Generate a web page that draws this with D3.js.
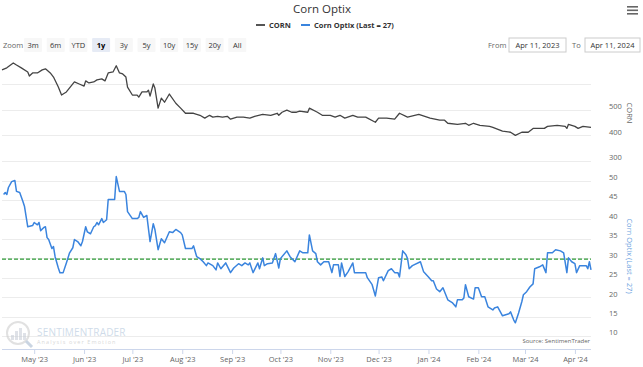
<!DOCTYPE html>
<html><head><meta charset="utf-8">
<script src="https://cdn.jsdelivr.net/npm/d3@7"></script>
<style>
html,body{margin:0;padding:0;background:#fff;}
svg{display:block;font-family:"Open Sans",Arial,sans-serif;}
</style></head>
<body><svg id="chart" width="643" height="367"></svg>
<script>
// ---------- DATA ----------
const chartTitle = "Corn Optix";
const seriesNames = ["CORN", "Corn Optix (Last = 27)"];
const cornDates = ["2023-04-11","2023-04-14","2023-04-18","2023-04-20","2023-04-23","2023-04-27","2023-04-28","2023-04-30","2023-05-03","2023-05-06",
"2023-05-08","2023-05-11","2023-05-13","2023-05-16","2023-05-18","2023-05-21","2023-05-26","2023-05-29","2023-06-01","2023-06-02",
"2023-06-04","2023-06-07","2023-06-09","2023-06-12","2023-06-14","2023-06-16","2023-06-19","2023-06-21","2023-06-23","2023-06-25",
"2023-06-27","2023-06-28","2023-07-01","2023-07-04","2023-07-05","2023-07-07","2023-07-10","2023-07-11","2023-07-12","2023-07-14",
"2023-07-15","2023-07-17","2023-07-19","2023-07-21","2023-07-24","2023-07-28","2023-07-31","2023-08-03","2023-08-08","2023-08-12",
"2023-08-15","2023-08-18","2023-08-20","2023-08-23","2023-08-26","2023-08-29","2023-08-31","2023-09-04","2023-09-08","2023-09-12",
"2023-09-15","2023-09-20","2023-09-25","2023-09-29","2023-09-30","2023-10-02","2023-10-05","2023-10-08","2023-10-11","2023-10-13",
"2023-10-18","2023-10-19","2023-10-24","2023-10-27","2023-11-01","2023-11-04","2023-11-07","2023-11-10","2023-11-15","2023-11-18",
"2023-11-23","2023-11-29","2023-12-01","2023-12-06","2023-12-11","2023-12-14","2023-12-19","2023-12-26","2024-01-02","2024-01-08",
"2024-01-11","2024-01-13","2024-01-19","2024-01-24","2024-01-26","2024-01-29","2024-02-02","2024-02-08","2024-02-10","2024-02-16",
"2024-02-21","2024-02-24","2024-02-28","2024-03-03","2024-03-06","2024-03-13","2024-03-15","2024-03-21","2024-03-26","2024-03-27",
"2024-03-28","2024-04-01","2024-04-03","2024-04-06","2024-04-11"];
const cornValues = [655,663,682,674,663,647,631,643,643,655,
659,643,627,588,557,569,608,600,592,612,
604,608,616,620,612,643,647,671,643,639,
627,588,557,557,549,569,569,576,553,600,
584,506,545,529,561,525,506,486,486,478,
467,478,471,474,471,474,463,471,471,467,
474,482,478,486,478,490,498,490,490,494,
490,506,490,478,478,471,478,467,478,471,
471,451,467,467,463,486,471,482,467,459,
459,447,443,447,439,447,439,435,431,416,
412,400,412,412,427,427,435,439,435,427,
443,435,427,435,431];
const optixDates = ["2023-04-12","2023-04-13","2023-04-14","2023-04-15","2023-04-17","2023-04-19","2023-04-20","2023-04-22","2023-04-24","2023-04-25",
"2023-04-27","2023-04-30","2023-05-01","2023-05-03","2023-05-04","2023-05-05","2023-05-07","2023-05-08","2023-05-09","2023-05-10",
"2023-05-12","2023-05-13","2023-05-14","2023-05-16","2023-05-17","2023-05-19","2023-05-21","2023-05-23","2023-05-25","2023-05-26",
"2023-05-28","2023-05-30","2023-05-31","2023-06-02","2023-06-03","2023-06-05","2023-06-07","2023-06-08","2023-06-09","2023-06-10",
"2023-06-12","2023-06-13","2023-06-15","2023-06-16","2023-06-20","2023-06-21","2023-06-23","2023-06-26","2023-06-27","2023-06-28",
"2023-07-01","2023-07-04","2023-07-05","2023-07-06","2023-07-08","2023-07-10","2023-07-11","2023-07-12","2023-07-14","2023-07-15",
"2023-07-17","2023-07-19","2023-07-21","2023-07-24","2023-07-26","2023-07-28","2023-07-31","2023-08-01","2023-08-03","2023-08-07",
"2023-08-08","2023-08-10","2023-08-12","2023-08-14","2023-08-16","2023-08-17","2023-08-20","2023-08-22","2023-08-23","2023-08-25",
"2023-08-28","2023-08-31","2023-09-02","2023-09-05","2023-09-07","2023-09-09","2023-09-11","2023-09-12","2023-09-14","2023-09-17",
"2023-09-18","2023-09-20","2023-09-21","2023-09-23","2023-09-26","2023-09-28","2023-09-30","2023-10-01","2023-10-05","2023-10-07",
"2023-10-10","2023-10-13","2023-10-15","2023-10-18","2023-10-19","2023-10-21","2023-10-23","2023-10-24","2023-10-26","2023-10-28",
"2023-10-31","2023-11-02","2023-11-03","2023-11-06","2023-11-07","2023-11-08","2023-11-10","2023-11-12","2023-11-15","2023-11-16",
"2023-11-18","2023-11-23","2023-11-24","2023-11-27","2023-11-29","2023-12-01","2023-12-03","2023-12-04","2023-12-07","2023-12-09",
"2023-12-11","2023-12-13","2023-12-14","2023-12-16","2023-12-18","2023-12-19","2023-12-20","2023-12-22","2023-12-27","2023-12-29",
"2024-01-01","2024-01-03","2024-01-04","2024-01-06","2024-01-08","2024-01-10","2024-01-13","2024-01-16","2024-01-18","2024-01-19",
"2024-01-22","2024-01-23","2024-01-24","2024-01-26","2024-01-29","2024-01-30","2024-02-01","2024-02-03","2024-02-05","2024-02-07",
"2024-02-10","2024-02-11","2024-02-13","2024-02-16","2024-02-20","2024-02-21","2024-02-23","2024-02-24","2024-02-26","2024-02-28",
"2024-02-29","2024-03-02","2024-03-04","2024-03-06","2024-03-07","2024-03-10","2024-03-12","2024-03-14","2024-03-15","2024-03-18",
"2024-03-20","2024-03-23","2024-03-25","2024-03-27","2024-03-28","2024-03-30","2024-04-01","2024-04-02","2024-04-04","2024-04-08",
"2024-04-09","2024-04-10","2024-04-11"];
const optixValues = [46.4,46.9,46.4,48.2,49.7,50,47.2,46.9,44.6,43.3,
38.1,38.4,39.2,38.6,39.2,37.1,37.9,38.1,35.3,34.8,
32.5,33,30.4,27.5,26.3,26.3,28.8,31.4,32.7,34.8,
34.3,33.2,34.3,38.1,36.8,36.3,38.1,38.4,39.2,38.6,
40.2,39.2,39.9,45.1,45.1,51.0,47.2,47.2,46.4,42,
40.2,40.2,40.5,42,40.5,41,37.6,34.3,38.9,37.4,
32.2,35,34,36.8,36.6,37.4,36.6,36,32.5,32.5,
33.2,30.4,29.9,29.1,28.1,28.8,28.1,27,28.8,27.3,
28.8,26.3,27.5,28.6,28.1,28.8,28.3,28.8,26.3,28.8,
27.3,30.1,28.1,28.6,28.8,31.2,27.5,29.9,31.9,30.4,
29.1,31.9,31.4,31.4,36,31.9,31.2,29.1,28.3,29.1,
29.1,26.3,28.3,28.3,25.3,28.8,25.3,26.5,28.8,26.3,
26.3,26.3,25,23.2,20.3,25,25.2,24.2,26.8,27.3,
26.3,26.3,25.2,31.9,30.9,29.9,27.3,28.1,29.1,26.5,
25.2,24.2,24.2,22.1,21.4,22.4,19.3,18.5,17.5,19.3,
19.3,19.8,23.2,20.1,19.5,22.4,22.4,20.1,20.1,17.5,
16.7,17.2,17.5,15.2,15.7,16.2,14.1,13.4,15.9,18.8,
20.6,21.4,22.6,23.4,27.3,27.8,28.3,26.3,31.4,31.4,
32.2,31.9,31.4,26.3,30.1,29.1,28.6,26.3,28.1,28.1,
27.3,29.1,27];
const optixThreshold = 29.8;
const dateRange = ["2023-04-11", "2024-04-11"];
const cornTicks = [300, 400, 500];
const cornGrid = [400, 500, 600];
const optixTicks = [10, 15, 20, 25, 30, 35, 40, 45, 50];
const optixGrid = [10, 15, 20, 25, 30, 35, 40, 45, 50, 55];
const zoomButtons = ["3m", "6m", "YTD", "1y", "3y", "5y", "10y", "15y", "20y", "All"];
const selectedButton = "1y";
const fromLabel = "Apr 11, 2023", toLabel = "Apr 11, 2024";

// ---------- CHART ----------
const parse = d3.timeParse("%Y-%m-%d");
const svg = d3.select("#chart");
svg.append("rect").attr("width", 643).attr("height", 367).attr("fill", "#fff");

const x = d3.scaleTime().domain(dateRange.map(parse)).range([2, 591]);
const yCorn = d3.scaleLinear().domain([300, 600]).range([161, 84]);
const yOpt = d3.scaleLinear().domain([10, 50]).range([336, 180.5]);

const BLUE = "#3a84de";

// Title
svg.append("text").attr("x", 322).attr("y", 13).attr("text-anchor", "middle")
  .attr("font-size", 11.5).attr("fill", "#333").text(chartTitle);
// Hamburger
[0, 1, 2].forEach(i => svg.append("rect").attr("x", 627).attr("y", 6 + i * 3.5)
  .attr("width", 11).attr("height", 1.6).attr("fill", "#666"));

// Legend
const lg = svg.append("g").attr("font-size", 7.5).attr("font-weight", "bold").attr("fill", "#333");
lg.append("line").attr("x1", 256).attr("x2", 265).attr("y1", 25).attr("y2", 25).attr("stroke", "#555").attr("stroke-width", 2);
lg.append("text").attr("x", 269).attr("y", 28).text(seriesNames[0]);
lg.append("line").attr("x1", 301).attr("x2", 310).attr("y1", 25).attr("y2", 25).attr("stroke", BLUE).attr("stroke-width", 2);
lg.append("text").attr("x", 314).attr("y", 28).text(seriesNames[1]);

// Range selector
const rs = svg.append("g").attr("font-size", 7.5);
rs.append("text").attr("x", 3).attr("y", 48).attr("fill", "#666").text("Zoom");
zoomButtons.forEach((b, i) => {
  const cx = 33 + i * 22.7;
  const sel = b === selectedButton;
  rs.append("rect").attr("x", cx - 9).attr("y", 38).attr("width", 18).attr("height", 14).attr("rx", 1)
    .attr("fill", sel ? "#e6ebf5" : "#f7f7f7");
  rs.append("text").attr("x", cx).attr("y", 48).attr("text-anchor", "middle")
    .attr("fill", sel ? "#000" : "#333").attr("font-weight", sel ? "bold" : "normal").text(b);
});
rs.append("text").attr("x", 488).attr("y", 48).attr("fill", "#666").text("From");
rs.append("rect").attr("x", 509).attr("y", 38).attr("width", 57).attr("height", 14).attr("fill", "#fff").attr("stroke", "#ccc");
rs.append("text").attr("x", 537.5).attr("y", 48).attr("text-anchor", "middle").attr("fill", "#333").text(fromLabel);
rs.append("text").attr("x", 572).attr("y", 48).attr("fill", "#666").text("To");
rs.append("rect").attr("x", 585).attr("y", 38).attr("width", 55).attr("height", 14).attr("fill", "#fff").attr("stroke", "#ccc");
rs.append("text").attr("x", 612.5).attr("y", 48).attr("text-anchor", "middle").attr("fill", "#333").text(toLabel);

// Gridlines
const grid = svg.append("g").attr("stroke", "#ececec").attr("stroke-width", 1);
cornGrid.forEach(v => grid.append("line").attr("x1", 2).attr("x2", 591)
  .attr("y1", Math.round(yCorn(v)) + 0.5).attr("y2", Math.round(yCorn(v)) + 0.5));
optixGrid.forEach(v => grid.append("line").attr("x1", 2).attr("x2", 591)
  .attr("y1", Math.round(yOpt(v)) + 0.5).attr("y2", Math.round(yOpt(v)) + 0.5));

// Watermark
const wm = svg.append("g").attr("opacity", 0.55);
wm.append("circle").attr("cx", 18).attr("cy", 333).attr("r", 11).attr("fill", "none").attr("stroke", "#c9c9c9").attr("stroke-width", 2);
[[11, 5], [15, 9], [19, 12], [23, 7]].forEach(([bx, bh]) => wm.append("rect").attr("x", bx).attr("y", 340 - bh).attr("width", 3).attr("height", bh).attr("fill", "#c5ccd6"));
wm.append("line").attr("x1", 26).attr("y1", 341).attr("x2", 32).attr("y2", 347).attr("stroke", "#9fb3cc").attr("stroke-width", 3);
wm.append("text").attr("x", 37).attr("y", 336).attr("font-size", 10).attr("fill", "#a9bfd8").attr("letter-spacing", 0.2).text("SENTIMENTRADER");
wm.append("text").attr("x", 37).attr("y", 344).attr("font-size", 5.5).attr("fill", "#b9b9b9").attr("letter-spacing", 1.1).text("Analysis over Emotion");

svg.append("text").attr("x", 590).attr("y", 343).attr("text-anchor", "end").attr("font-size", 6)
  .attr("fill", "#666").text("Source: SentimenTrader");

// X axis
const xAxis = svg.append("g").attr("transform", "translate(0,349)")
  .call(d3.axisBottom(x).ticks(d3.timeMonth.every(1)).tickFormat(d3.timeFormat("%b '%y")).tickSize(5).tickPadding(3));
xAxis.select(".domain").attr("stroke", "#ccd6eb").attr("d", "M2,0.5H591");
xAxis.selectAll(".tick line").attr("stroke", "#ccd6eb");
xAxis.selectAll(".tick text").attr("fill", "#666").attr("font-size", 7.5).attr("font-family", "Open Sans, Arial, sans-serif");

// Right axes
function rightAxis(scale, ticks) {
  const g = svg.append("g").attr("transform", "translate(606,0)")
    .call(d3.axisRight(scale).tickValues(ticks).tickSize(0).tickPadding(3));
  g.select(".domain").remove();
  g.selectAll(".tick text").attr("fill", "#666").attr("font-size", 7.5).attr("dy", "-0.15em")
    .attr("font-family", "Open Sans, Arial, sans-serif");
}
rightAxis(yCorn, cornTicks);
rightAxis(yOpt, optixTicks);

svg.append("text").attr("transform", "translate(627,113) rotate(90)").attr("text-anchor", "middle")
  .attr("font-size", 7.5).attr("fill", "#666").text(seriesNames[0]);
svg.append("text").attr("transform", "translate(627,256) rotate(90)").attr("text-anchor", "middle")
  .attr("font-size", 7.5).attr("fill", "#6a9fe0").text(seriesNames[1]);

// Threshold
svg.append("line").attr("x1", 2).attr("x2", 591).attr("y1", yOpt(optixThreshold)).attr("y2", yOpt(optixThreshold))
  .attr("stroke", "#2e9a36").attr("stroke-width", 1.3).attr("stroke-dasharray", "4,2");

// Lines
const cornData = cornDates.map((d, i) => ({ d: parse(d), v: cornValues[i] }));
const optixData = optixDates.map((d, i) => ({ d: parse(d), v: optixValues[i] }));
svg.append("path").datum(cornData).attr("fill", "none").attr("stroke", "#444").attr("stroke-width", 1.3)
  .attr("stroke-linejoin", "round").attr("d", d3.line().x(p => x(p.d)).y(p => yCorn(p.v)));
svg.append("path").datum(optixData).attr("fill", "none").attr("stroke", BLUE).attr("stroke-width", 1.5)
  .attr("stroke-linejoin", "round").attr("d", d3.line().x(p => x(p.d)).y(p => yOpt(p.v)));
</script></body></html>
